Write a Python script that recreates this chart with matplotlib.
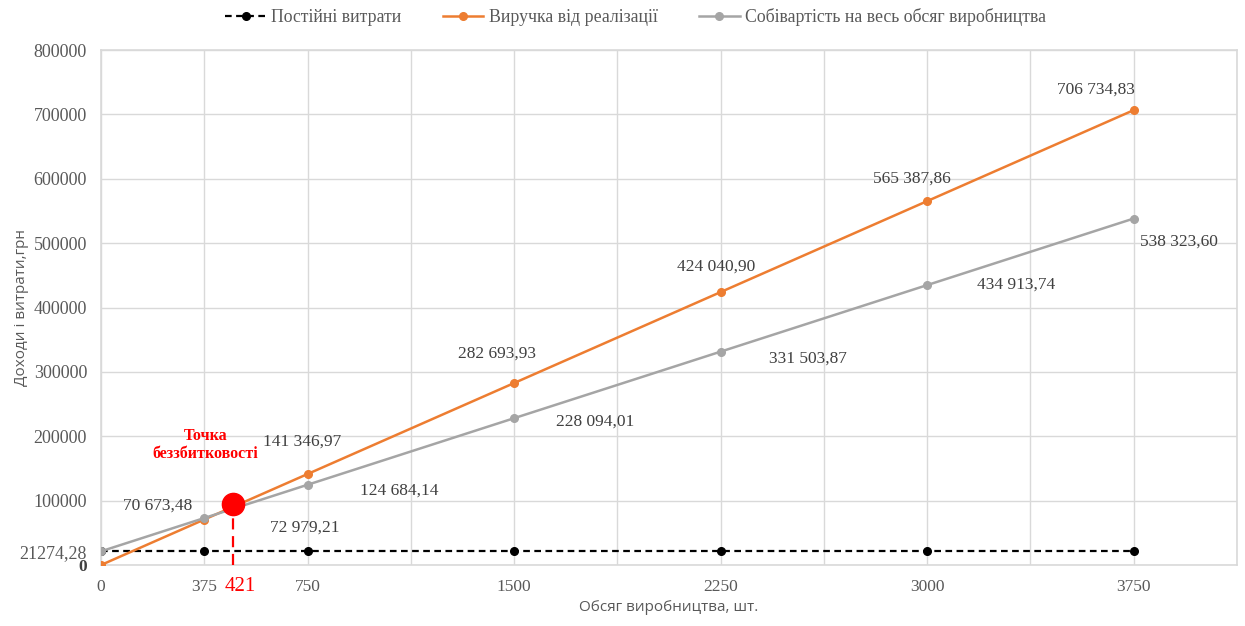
import matplotlib.pyplot as plt
from matplotlib.ticker import FixedLocator, MultipleLocator

SERIF = "Liberation Serif"
SANS = "Open Sans"

volume = [0, 375, 750, 1500, 2250, 3000, 3750]
fixed_costs = [21274.28] * 7
revenue = [0, 70673.48, 141346.97, 282693.93, 424040.90, 565387.86, 706734.83]
total_costs = [21274.28, 72979.21, 124684.14, 228094.01, 331503.87, 434913.74, 538323.60]

series_names = ["Постійні витрати", "Виручка від реалізації",
                "Собівартість на весь обсяг виробництва"]
breakeven_label = "421"
# where the hand-drawn break-even marker sits in the picture
breakeven_x = 480
breakeven_y = 95000

x_tick_values = [0, 375, 750, 1500, 2250, 3000, 3750]
y_tick_values = [100000, 200000, 300000, 400000, 500000, 600000, 700000, 800000]

# label offsets in pixels (revenue above-left, costs below-right)
rev_offsets = [None, (-47, 14), (-5, 32), (-17, 29), (-5, 25), (-15, 22), (-38, 20)]
cost_offsets = [None, (101, -10), (92, -6), (81, -3), (87, -7), (89, 0), (45, -23)]

ORANGE = "#ED7D31"
GRAY = "#A5A5A5"
TXT = "#404040"
AX_TXT = "#595959"
GRID = "#D9D9D9"


def fmt(v):
    whole, frac = f"{v:.2f}".split(".")
    return f"{int(whole):,}".replace(",", " ") + "," + frac


fig = plt.figure(figsize=(12.45, 6.26), dpi=100)
ax = fig.add_axes([0.0811, 0.0974, 0.9125, 0.8226])
ax.xaxis.remove_overlapping_locs = False
ax.yaxis.remove_overlapping_locs = False

ax.plot(volume, fixed_costs, color="black", linestyle=(0, (3, 2)), linewidth=1.6,
        marker="o", markersize=5.5, label=series_names[0], zorder=3)
ax.plot(volume, revenue, color=ORANGE, linewidth=1.8, marker="o", markersize=5.5,
        label=series_names[1], zorder=4)
ax.plot(volume, total_costs, color=GRAY, linewidth=1.8, marker="o", markersize=5.5,
        label=series_names[2], zorder=4)

for x, y, off in zip(volume, revenue, rev_offsets):
    if off is None:
        continue
    ax.annotate(fmt(y), (x, y), xytext=off, textcoords="offset pixels", ha="center",
                va="center", fontsize=12.5, family=SERIF, color=TXT)
for x, y, off in zip(volume, total_costs, cost_offsets):
    if off is None:
        continue
    ax.annotate(fmt(y), (x, y), xytext=off, textcoords="offset pixels", ha="center",
                va="center", fontsize=12.5, family=SERIF, color=TXT)

# break-even point
ax.plot([breakeven_x, breakeven_x], [0, breakeven_y], color="red", linestyle=(0, (5, 3)),
        linewidth=1.6, zorder=5)
ax.plot([breakeven_x], [breakeven_y], "o", color="red", markersize=16, zorder=6)
ax.annotate("Точка\nбеззбитковості", (breakeven_x, breakeven_y), xytext=(-28, 42),
            textcoords="offset pixels", ha="center", va="bottom", fontsize=11.5,
            family=SERIF, fontweight="bold", color="red", linespacing=1.15)
ax.annotate(breakeven_label, (breakeven_x, 0), xytext=(7, -21), textcoords="offset pixels",
            ha="center", va="center", fontsize=15, family=SERIF, color="red",
            annotation_clip=False)

ax.set_xlim(0, 4125)
ax.set_ylim(0, 800000)

ax.xaxis.set_major_locator(FixedLocator(x_tick_values))
ax.set_xticklabels([str(v) for v in x_tick_values])
ax.xaxis.set_minor_locator(MultipleLocator(375))
ax.yaxis.set_major_locator(FixedLocator([0, fixed_costs[0]] + y_tick_values))
ax.set_yticklabels(["0", fmt(fixed_costs[0]).replace(" ", "")] + [str(v) for v in y_tick_values])
ax.yaxis.set_minor_locator(MultipleLocator(100000))

ax.tick_params(which="both", length=0)
ax.tick_params(axis="x", pad=10)
ax.tick_params(axis="y", pad=10)
for lbl in ax.get_xticklabels():
    lbl.set_family(SERIF)
    lbl.set_fontsize(12.5)
    lbl.set_color(AX_TXT)
for lbl in ax.get_yticklabels():
    lbl.set_family(SERIF)
    lbl.set_fontsize(13)
    lbl.set_color(AX_TXT)
    if lbl.get_text() == "0":
        lbl.set_fontweight("bold")
        lbl.set_fontsize(12.5)
        lbl.set_color("#404040")
        lbl.set_verticalalignment("center_baseline")

ax.grid(False, which="major")
ax.grid(True, which="minor", color=GRID, linewidth=1)
ax.set_axisbelow(True)
for sp in ax.spines.values():
    sp.set_color(GRID)
    sp.set_linewidth(1.2)

ax.set_xlabel("Обсяг виробництва, шт.", family=SANS, fontsize=11, color=AX_TXT, labelpad=4)
ax.set_ylabel("Доходи і витрати,грн", family=SANS, fontsize=11, color=AX_TXT)
ax.yaxis.set_label_coords(-0.063, 0.5)

fig.legend(loc="upper center", bbox_to_anchor=(0.5105, 1.012), ncol=3, frameon=False,
           prop={"family": SERIF, "size": 12.8}, labelcolor=AX_TXT, handlelength=2.3,
           columnspacing=2.3, handletextpad=0.3)

fig.savefig("out.png", dpi=100)
